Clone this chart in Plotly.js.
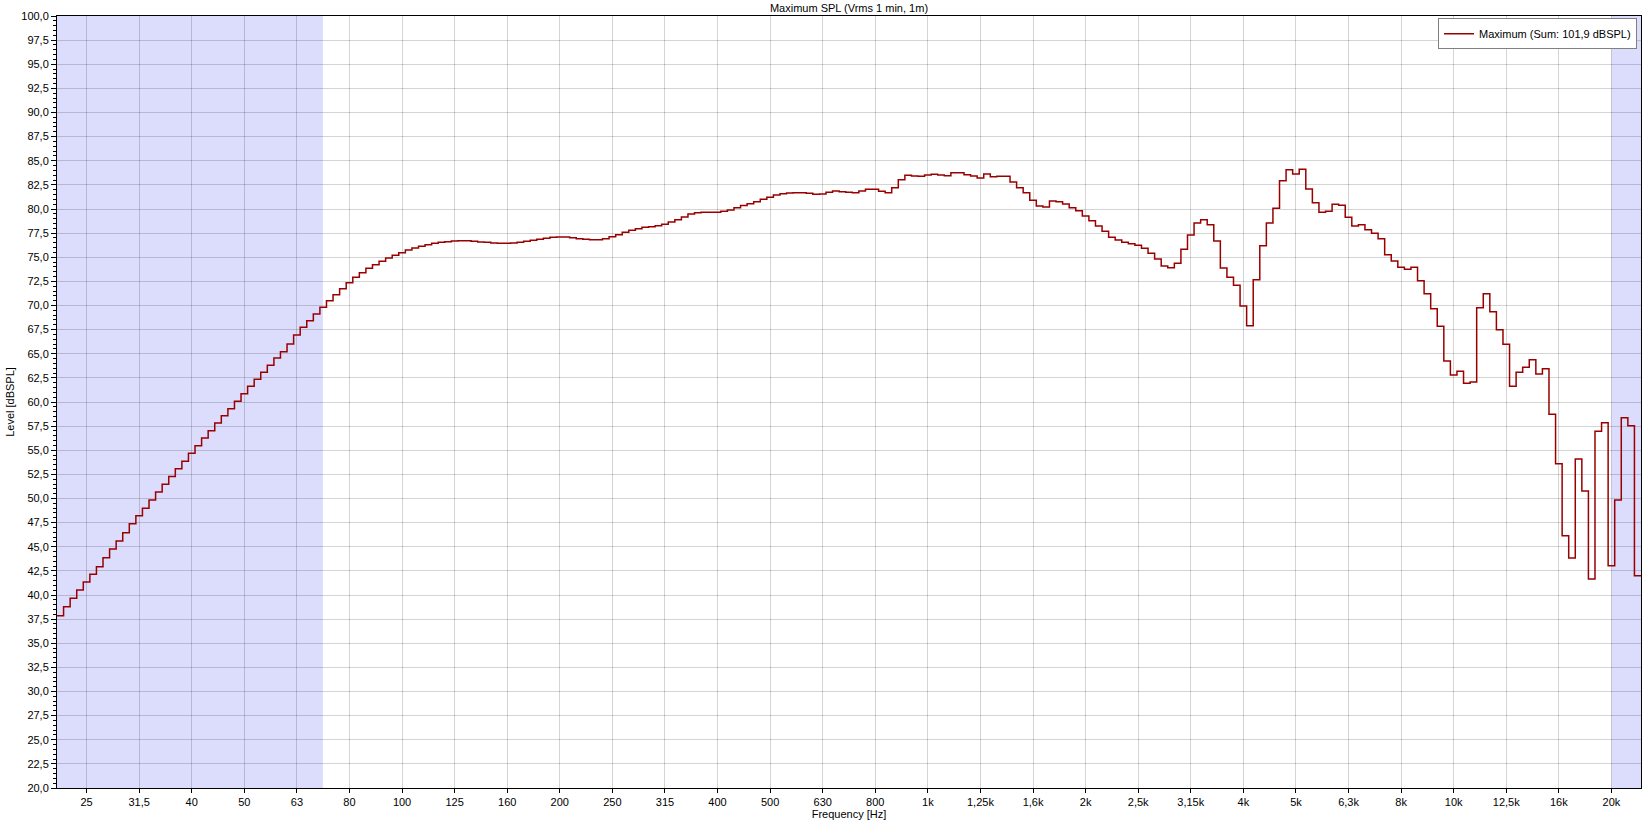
<!DOCTYPE html>
<html>
<head>
<meta charset="utf-8">
<script src="https://cdn.plot.ly/plotly-3.0.1.min.js"></script>
<style>html,body{margin:0;padding:0;background:#fff}#chart{width:1646px;height:821px}</style>
</head>
<body>
<div id="chart"></div>
<script>
// Band grid: 1/24-octave bands (80 per decade), centre = 1000 * 10^(index/80) Hz
const bandsPerDecade = 80;
const firstBandIndex = -132;

// Maximum SPL per band [dBSPL] (lowest band first)
const levelsDbSpl = [
  37.85, 38.79, 39.66, 40.52, 41.35, 42.14, 42.93, 43.87, 44.77, 45.60,
  46.46, 47.39, 48.22, 48.98, 49.84, 50.67, 51.47, 52.27, 53.09, 53.85,
  54.68, 55.47, 56.27, 57.03, 57.82, 58.58, 59.31, 60.07, 60.86, 61.63,
  62.35, 63.08, 63.80, 64.56, 65.21, 66.00, 66.95, 67.74, 68.43, 69.12,
  69.81, 70.50, 71.12, 71.74, 72.36, 72.92, 73.40, 73.85, 74.23, 74.58,
  74.92, 75.20, 75.47, 75.75, 75.96, 76.13, 76.30, 76.44, 76.55, 76.61,
  76.68, 76.72, 76.72, 76.65, 76.58, 76.55, 76.48, 76.44, 76.44, 76.48,
  76.55, 76.65, 76.75, 76.86, 76.96, 77.07, 77.10, 77.10, 77.03, 76.93,
  76.86, 76.82, 76.82, 76.93, 77.13, 77.34, 77.58, 77.79, 77.96, 78.10,
  78.17, 78.27, 78.41, 78.65, 78.89, 79.17, 79.48, 79.62, 79.66, 79.66,
  79.66, 79.76, 79.90, 80.14, 80.35, 80.55, 80.76, 81.00, 81.21, 81.45,
  81.59, 81.66, 81.69, 81.69, 81.62, 81.52, 81.55, 81.73, 81.87, 81.80,
  81.73, 81.69, 81.87, 82.04, 82.04, 81.83, 81.69, 82.21, 83.04, 83.49,
  83.42, 83.39, 83.52, 83.59, 83.52, 83.45, 83.76, 83.76, 83.56, 83.42,
  83.21, 83.63, 83.35, 83.39, 83.39, 82.80, 82.21, 81.69, 80.90, 80.31,
  80.21, 80.83, 80.76, 80.52, 80.14, 79.83, 79.27, 78.79, 78.24, 77.69,
  77.07, 76.79, 76.55, 76.41, 76.24, 75.93, 75.41, 74.82, 74.09, 73.92,
  74.37, 75.82, 77.31, 78.55, 78.89, 78.38, 76.68, 73.89, 72.92, 72.09,
  69.95, 67.91, 72.68, 76.20, 78.55, 80.07, 82.93, 84.07, 83.63, 84.11,
  82.07, 80.65, 79.66, 79.76, 80.49, 80.38, 79.14, 78.24, 78.38, 77.86,
  77.48, 76.93, 75.25, 74.60, 73.97, 73.75, 73.96, 72.57, 71.22, 69.67,
  67.84, 64.25, 62.80, 63.18, 61.94, 62.07, 69.77, 71.22, 69.36, 67.49,
  65.98, 61.63, 63.08, 63.60, 64.39, 62.90, 63.45, 58.72, 53.61, 46.15,
  43.83, 54.09, 50.78, 41.66, 56.96, 57.86, 43.04, 49.84, 58.38, 57.55,
  42.00
];

// X tick positions (preferred third-octave frequencies) and their labels
const tickValsHz = [25.12, 31.62, 39.81, 50.12, 63.10, 79.43, 100, 125.9, 158.5, 199.5,
  251.2, 316.2, 398.1, 501.2, 631.0, 794.3, 1000, 1258.9, 1584.9, 1995.3,
  2511.9, 3162.3, 3981.1, 5011.9, 6309.6, 7943.3, 10000, 12589, 15849, 19953];
const tickLabels = ['25', '31,5', '40', '50', '63', '80', '100', '125', '160', '200',
  '250', '315', '400', '500', '630', '800', '1k', '1,25k', '1,6k', '2k',
  '2,5k', '3,15k', '4k', '5k', '6,3k', '8k', '10k', '12,5k', '16k', '20k'];

// Shaded (out-of-range) frequency bands [Hz]
const lowShadeHz = [22.07, 70.7];
const highShadeHz = [19953, 22715];

const seriesName = 'Maximum (Sum: 101,9 dBSPL)';

// Build the step line from band edges
const edgeHz = i => 1000 * Math.pow(10, (firstBandIndex + i - 0.5) / bandsPerDecade);
const xs = [], ys = [];
levelsDbSpl.forEach((v, i) => { xs.push(edgeHz(i)); ys.push(v); });
xs.push(edgeHz(levelsDbSpl.length));
ys.push(levelsDbSpl[levelsDbSpl.length - 1]);

const xRangeLog = [Math.log10(edgeHz(0)), Math.log10(edgeHz(levelsDbSpl.length))];

const gridCol = 'rgba(0,0,0,0.17)';
const fontFam = '"Liberation Sans", Arial, sans-serif';

const trace = {
  type: 'scatter', mode: 'lines', name: seriesName,
  x: xs, y: ys,
  line: {shape: 'hv', color: '#990000', width: 1.5},
  hoverinfo: 'skip'
};

const shadeColor = 'rgb(220,220,252)';
const layout = {
  width: 1646, height: 821,
  margin: {l: 57, r: 5, t: 16, b: 33},
  paper_bgcolor: '#ffffff', plot_bgcolor: '#ffffff',
  separators: ',.',
  font: {family: fontFam, size: 11, color: '#000'},
  title: {text: 'Maximum SPL (Vrms 1 min, 1m)', xref: 'paper', x: 0.5, xanchor: 'center',
          yref: 'container', y: 0.9905, yanchor: 'middle', font: {size: 11, color: '#000'}},
  showlegend: true,
  legend: {x: 0.9975, xanchor: 'right', y: 0.997, yanchor: 'top', bgcolor: '#ffffff',
           bordercolor: '#808080', borderwidth: 1, font: {size: 11, color: '#000'},
           itemwidth: 30},
  xaxis: {
    type: 'log', range: xRangeLog, autorange: false,
    tickmode: 'array', tickvals: tickValsHz, ticktext: tickLabels,
    ticks: 'outside', ticklen: 4, tickcolor: '#000', tickwidth: 1,
    showline: true, linecolor: '#000', linewidth: 1, mirror: true,
    showgrid: true, gridcolor: gridCol, gridwidth: 1, zeroline: false,
    tickfont: {size: 11, color: '#000'},
    title: {text: 'Frequency [Hz]', font: {size: 11, color: '#000'}, standoff: 2},
    automargin: false
  },
  yaxis: {
    range: [20, 100], autorange: false,
    tick0: 20, dtick: 2.5, tickformat: '.1f',
    ticks: 'outside', ticklen: 5, tickcolor: '#000', tickwidth: 1,
    minor: {dtick: 0.5, ticks: 'outside', ticklen: 3, tickcolor: '#000', showgrid: false},
    showline: true, linecolor: '#000', linewidth: 1, mirror: true,
    showgrid: true, gridcolor: gridCol, gridwidth: 1, zeroline: false,
    tickfont: {size: 11, color: '#000'},
    title: {text: 'Level [dBSPL]', font: {size: 11, color: '#000'}, standoff: 4},
    automargin: false
  },
  shapes: [
    {type: 'rect', layer: 'below', xref: 'x', yref: 'paper', x0: lowShadeHz[0], x1: lowShadeHz[1], y0: 0, y1: 1,
     fillcolor: shadeColor, line: {width: 0}},
    {type: 'rect', layer: 'below', xref: 'x', yref: 'paper', x0: highShadeHz[0], x1: highShadeHz[1], y0: 0, y1: 1,
     fillcolor: shadeColor, line: {width: 0}}
  ]
};

Plotly.newPlot('chart', [trace], layout, {displayModeBar: false, responsive: false});
</script>
</body>
</html>
